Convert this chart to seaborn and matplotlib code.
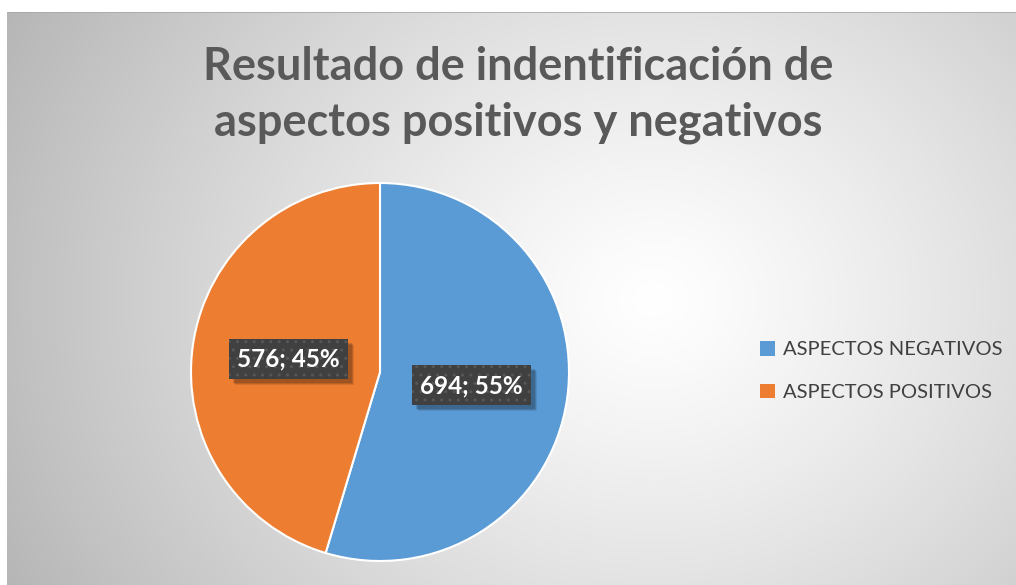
import numpy as np
import matplotlib
matplotlib.use("Agg")
import matplotlib.pyplot as plt
import seaborn as sns
from matplotlib.patches import Patch, Rectangle
from matplotlib.transforms import IdentityTransform

categories = ["ASPECTOS NEGATIVOS", "ASPECTOS POSITIVOS"]
values = [694, 576]
colors = ["#5B9BD5", "#ED7D31"]
title = "Resultado de indentificación de\naspectos positivos y negativos"

sns.set_theme(style="white")
plt.rcParams['font.family'] = ['Lato', 'DejaVu Sans']

W, H = 1016, 585
fig = plt.figure(figsize=(W / 100, H / 100), dpi=100)
fig.patch.set_facecolor("white")

# background gradient area
bx0, by0 = 7, 12
bg = fig.add_axes([bx0 / W, 0, 1 - bx0 / W, 1 - by0 / H])
bg.set_axis_off()
ny, nx = 300, 500
yy, xx = np.mgrid[0:ny, 0:nx]
cxg, cyg = 0.64 * nx, 0.5 * ny
d = np.sqrt(((xx - cxg) / (nx * 0.62)) ** 2 + ((yy - cyg) / (ny * 0.95)) ** 2)
d = np.clip(d, 0, 1.2)
shade = 1.0 - 0.24 * d ** 1.2
img = np.dstack([shade, shade, shade])
bg.imshow(img, extent=[0, 1, 0, 1], aspect="auto", origin="upper", zorder=0)
bg.set_xlim(0, 1)
bg.set_ylim(0, 1)
bg.plot([0, 1], [1, 1], color="#a8a8a8", lw=1.2, zorder=1)

# title
fig.text(518 / W, 1 - 95 / H, title, ha="center", va="center",
         fontsize=32.5, fontweight="bold", color="#595959", linespacing=1.42)

# pie
cx, cy, r = 380, 372, 189
ax = fig.add_axes([(cx - r) / W, (H - cy - r) / H, 2 * r / W, 2 * r / H])
ax.set_facecolor("none")
total = sum(values)

def fmt(p):
    v = int(round(p * total / 100.0))
    return f"{v}; {p:.0f}%"

wedges, texts, autotexts = ax.pie(
    values, colors=colors, startangle=90, counterclock=False,
    autopct=fmt, pctdistance=0.49,
    wedgeprops=dict(edgecolor="white", linewidth=1.5),
    textprops=dict(color="white", fontsize=17.5, fontweight="bold"))
ax.set_xlim(-1, 1)
ax.set_ylim(-1, 1)

for t in autotexts:
    t.set_zorder(5)
    t.set_bbox(dict(boxstyle="square,pad=0.35", facecolor="#404040",
                    edgecolor="#575757", linewidth=0, hatch=".."))

# shadows behind label boxes
fig.canvas.draw()
renderer = fig.canvas.get_renderer()
for t in autotexts:
    bb = t.get_bbox_patch().get_window_extent(renderer)
    for k, a in [(6, 0.10), (5, 0.12), (4, 0.15)]:
        ax.add_patch(Rectangle((bb.x0 + k, bb.y0 - k), bb.width, bb.height,
                               transform=IdentityTransform(), facecolor="black",
                               edgecolor="none", alpha=a, zorder=4,
                               clip_on=False))

# legend
handles = [Patch(facecolor=c, edgecolor="none") for c in colors]
leg = fig.legend(handles, categories, loc="center left",
                 bbox_to_anchor=(742 / W, 1 - 371 / H), frameon=False,
                 fontsize=14.5, labelcolor="#404040", handlelength=0.75,
                 handleheight=0.75, handletextpad=0.4, labelspacing=1.25)

fig.savefig("out.png", dpi=100)
